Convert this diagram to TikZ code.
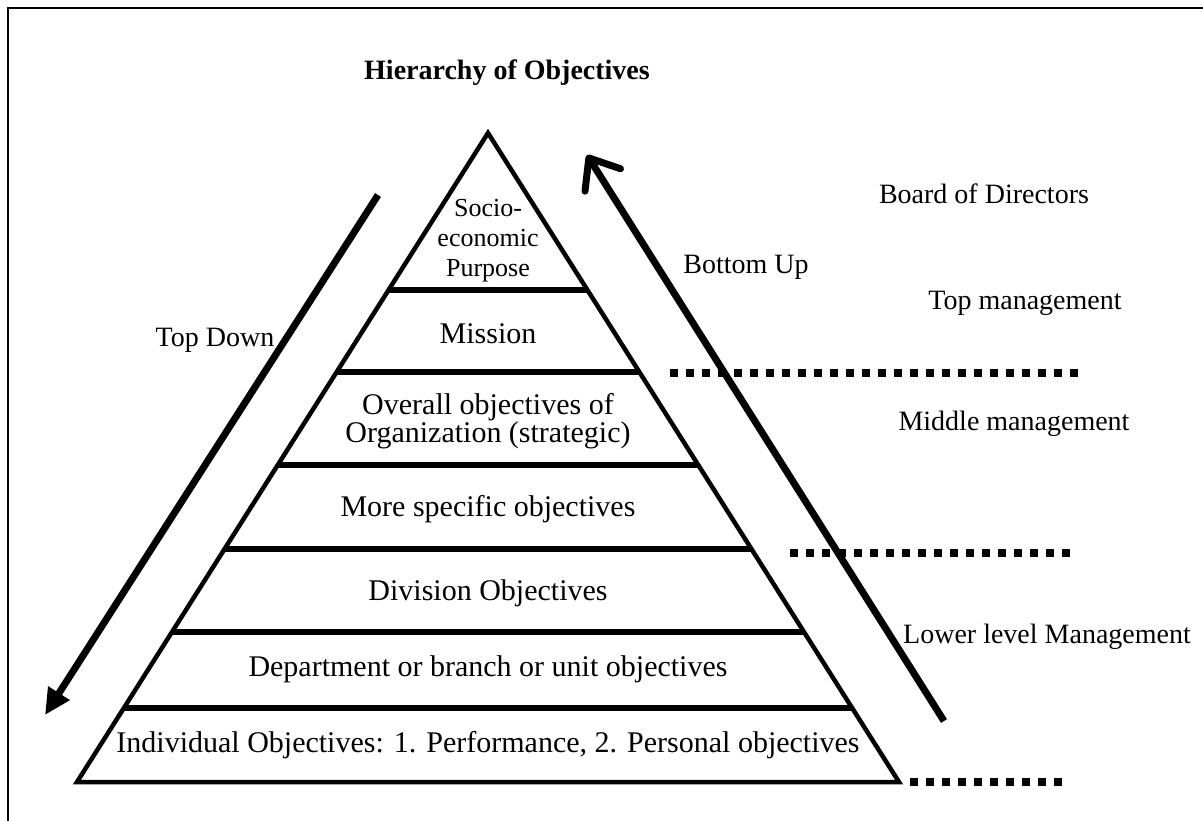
\documentclass[tikz,border=0pt]{standalone}
\usepackage{fontspec}
\setmainfont{Liberation Serif}
\usetikzlibrary{arrows.meta,calc}
\begin{document}
\begin{tikzpicture}[x=1pt,y=-1pt,
  tri/.style={line width=4.5pt,line join=miter},
  level/.style={line width=5.5pt},
  lbl/.style={inner sep=0pt,align=center,font=\fontsize{30}{28}\selectfont},
  small/.style={inner sep=0pt,align=center,font=\fontsize{26}{30}\selectfont},
  side/.style={inner sep=0pt,align=center,font=\fontsize{28}{30}\selectfont},
  bigarrow/.style={line width=7pt},
  dots/.style={line width=7.5pt,dash pattern=on 7.5pt off 8.5pt,line cap=butt},
  frame/.style={line width=2pt}
]
\useasboundingbox (0,0) rectangle (1203,821);
% frame (top and left edges only)
\coordinate (F1) at (8,821);
\coordinate (F2) at (8,8);
\coordinate (F3) at (1203,8);
\draw[frame] (F1) -- (F2) -- (F3);

% title
\node[inner sep=0pt,font=\fontsize{28}{30}\selectfont\bfseries] (title) at (507,73) {Hierarchy of Objectives};

% pyramid
\coordinate (A) at (488,133);
\coordinate (BL) at (77,782);
\coordinate (BR) at (899,782);
\draw[tri] (A) -- (BL) -- (BR) -- cycle;
\foreach \i/\t in {1/0.2419,2/0.3683,3/0.5116,4/0.6410,5/0.7689,6/0.8860}{
  \coordinate (L\i) at ($(A)!\t!(BL)$);
  \coordinate (R\i) at ($(A)!\t!(BR)$);
  \draw[level] (L\i) -- (R\i);
}

% pyramid texts
\node[small] (socio) at (488,241) {Socio-\\economic\\Purpose};
\node[lbl] (mission) at (488,334) {Mission};
\node[lbl] (overall) at (488,421) {Overall objectives of\\Organization (strategic)};
\node[lbl] (specific) at (488,509) {More specific objectives};
\node[lbl] (division) at (488,593) {Division Objectives};
\node[lbl] (dept) at (488,669) {Department or branch or unit objectives};
\node[lbl] (indiv) at (488,745) {Individual Objectives: 1. Performance, 2. Personal objectives};

% arrows
\coordinate (TDs) at (378,195);
\coordinate (TDe) at (45,715);
\draw[bigarrow,-{Triangle[length=26pt,width=24pt]}] (TDs) -- (TDe);
\coordinate (BUs) at (944,721);
\coordinate (BUe) at (587,155);
\draw[bigarrow,-{Straight Barb[length=26pt,width=42pt,round]}] (BUs) -- (BUe);

\node[side] (topdown) at (215,340) {Top Down};
\node[side] (bottomup) at (746,267) {Bottom Up};

% right labels
\node[side] (board) at (984,194) {Board of Directors};
\node[side] (topm) at (1025,303) {Top management};
\node[side] (midm) at (1014,424) {Middle management};
\node[side] (lowm) at (1047,637) {Lower level Management};

% dotted separators
\coordinate (D1a) at (670,373); \coordinate (D1b) at (1080,373);
\coordinate (D2a) at (790,553); \coordinate (D2b) at (1072,553);
\coordinate (D3a) at (910,782); \coordinate (D3b) at (1062,782);
\draw[dots] (D1a) -- (D1b);
\draw[dots] (D2a) -- (D2b);
\draw[dots] (D3a) -- (D3b);
\end{tikzpicture}
\end{document}
